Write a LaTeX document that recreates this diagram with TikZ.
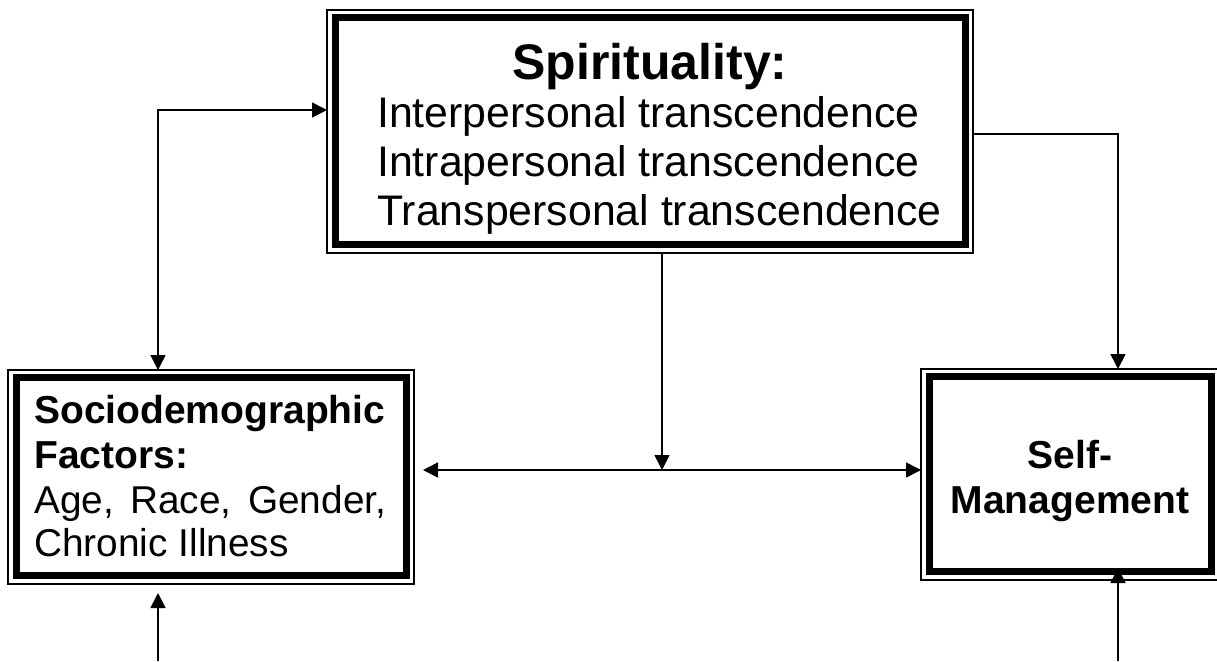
\documentclass[tikz,border=0pt]{standalone}
\usepackage{fontspec}
\setmainfont{Liberation Sans}
\usetikzlibrary{arrows.meta,calc}
\begin{document}
\begin{tikzpicture}[x=1pt,y=-1pt,
  box/.style={draw, line width=1.3pt, inner sep=0pt, outer sep=0pt},
  thickbox/.style={line width=7pt},
  tip/.tip={Triangle[length=15pt,width=15pt]},
  conn/.style={line width=1.6pt, -tip},
  conntwo/.style={line width=1.6pt, tip-tip},
  txt/.style={anchor=base west, inner sep=0pt},
  ctxt/.style={anchor=base, inner sep=0pt},
  big/.style={font=\fontsize{50pt}{58pt}\selectfont\bfseries},
  body/.style={font=\fontsize{42.8pt}{48pt}\selectfont},
  mid/.style={font=\fontsize{38.8pt}{44pt}\selectfont},
  midb/.style={font=\fontsize{39pt}{44pt}\selectfont\bfseries}]
\useasboundingbox[fill=white] (0,0) rectangle (1217,661);

% boxes (outer thin frame)
\node[box, minimum width=646pt, minimum height=243pt] (spir) at (650,131.5) {};
\node[box, minimum width=406pt, minimum height=214pt] (soc) at (211,477) {};
\node[box, minimum width=298pt, minimum height=211pt] (self) at (1070,474.5) {};

% inner thick frames
\foreach \b in {spir,soc,self}
  \draw[thickbox] ([shift={(8,7.5)}]\b.north west) rectangle ([shift={(-8,-8.5)}]\b.south east);

% texts
\node[ctxt, big] (spirtitle) at (650,79) {Spirituality:};
\node[txt, body] (spir1) at (377,127) {Interpersonal transcendence};
\node[txt, body] (spir2) at (377,176) {Intrapersonal transcendence};
\node[txt, body] (spir3) at (377,225) {Transpersonal transcendence};

\node[txt, midb] (soc1) at (34,423) {Sociodemographic};
\node[txt, midb] (soc2) at (34,468) {Factors:};
\node[txt, mid] (soc3) at (34,513) {\hbox to 352pt{Age,\hfill Race,\hfill Gender,}};
\node[txt, mid] (soc4) at (34,556) {Chronic Illness};

\node[ctxt, midb] (self1) at (1070,468) {Self-};
\node[ctxt, midb] (self2) at (1070,513) {Management};

% connector coordinates
\coordinate (ca) at (158,110);
\coordinate (cb) at (1118,134);
\coordinate (junction) at (662,470);
\coordinate (bl) at (158,661);
\coordinate (br) at (1118,661);

% connectors
\draw[conntwo] (spir.west |- ca) -| (soc.north -| ca);
\draw[conn] (spir.east |- cb) -| (self.north -| cb);
\draw[conn] (spir.south -| junction) -- (junction);
\draw[conntwo] ([xshift=9pt]soc.east |- junction) -- (self.west |- junction);
\draw[conn] (bl) -- ([yshift=-9pt]soc.south -| bl);
\draw[conn] (br) -- ([yshift=12pt]self.south -| br);
\end{tikzpicture}
\end{document}
